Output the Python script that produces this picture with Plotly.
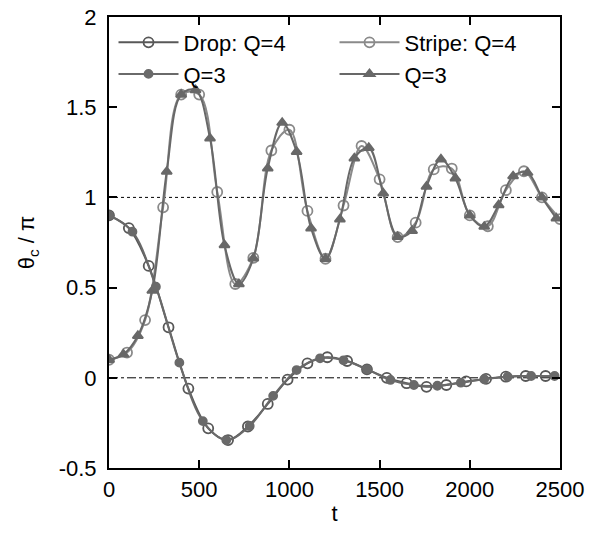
import plotly.graph_objects as go

# ---- data ----
drop4_t = [0, 110, 220, 330, 440, 550, 660, 770, 880, 990, 1100, 1210, 1320, 1430,
           1540, 1650, 1760, 1870, 1980, 2090, 2200, 2310, 2420]
drop4_y = [0.90, 0.83, 0.62, 0.28, -0.06, -0.28, -0.345, -0.27, -0.145, -0.01, 0.08, 0.114,
           0.093, 0.047, 0.0, -0.03, -0.05, -0.04, -0.02, -0.006, 0.006, 0.01, 0.01]

drop3_t = [0, 130, 260, 390, 520, 650, 780, 910, 1040, 1170, 1300, 1430, 1560, 1690,
           1820, 1950, 2080, 2210, 2340, 2470]
drop3_y = [0.90, 0.81, 0.505, 0.084, -0.24, -0.345, -0.267, -0.10, 0.043, 0.108, 0.097,
           0.047, -0.012, -0.04, -0.044, -0.027, -0.008, 0.006, 0.01, 0.01]

stripe4_t = [0, 100, 200, 300, 400, 500, 600, 700, 800, 900, 1000, 1100, 1200, 1300,
             1400, 1500, 1600, 1700, 1800, 1900, 2000, 2100, 2200, 2300, 2400, 2500]
stripe4_y = [0.10, 0.14, 0.32, 0.945, 1.57, 1.57, 1.03, 0.52, 0.665, 1.26, 1.375, 0.925,
             0.66, 0.955, 1.285, 1.10, 0.78, 0.86, 1.155, 1.16, 0.90, 0.84, 1.04, 1.145,
             1.00, 0.88]

stripe3_t = [0, 80, 160, 240, 320, 400, 480, 560, 640, 720, 800, 880, 960, 1040, 1120,
             1200, 1280, 1360, 1440, 1520, 1600, 1680, 1760, 1840, 1920, 2000, 2080,
             2160, 2240, 2320, 2400, 2480]
stripe3_y = [0.10, 0.13, 0.233, 0.483, 1.143, 1.57, 1.595, 1.327, 0.736, 0.52, 0.662,
             1.161, 1.414, 1.253, 0.829, 0.66, 0.879, 1.217, 1.275, 1.023, 0.782, 0.815,
             1.06, 1.211, 1.106, 0.90, 0.838, 0.958, 1.118, 1.137, 1.00, 0.884]

ref_dotted = 1.0
ref_dashdot = 0.0

x_ticks = [0, 500, 1000, 1500, 2000, 2500]
y_ticks = [-0.5, 0, 0.5, 1, 1.5, 2]
y_ticktext = ["-0.5", "0", "0.5", "1", "1.5", "2"]

FONT = "Liberation Sans, Arial, sans-serif"
FS = 22

fig = go.Figure()

def add(t, y, name, color, symbol, size, legend):
    fig.add_trace(go.Scatter(
        x=t, y=y, name=name, mode="lines+markers",
        line=dict(color=color, width=2, shape="spline", smoothing=1.0),
        marker=dict(symbol=symbol, size=size, color=color,
                    line=dict(color=color, width=1.8)),
        legend=legend,
    ))

add(stripe4_t, stripe4_y, "Stripe: Q=4", "#8a8a8a", "circle-open", 10, "legend2")
add(stripe3_t, stripe3_y, "Q=3", "#686868", "triangle-up", 9, "legend2")
add(drop4_t, drop4_y, "Drop: Q=4", "#585858", "circle-open", 10, "legend")
add(drop3_t, drop3_y, "Q=3", "#6a6a6a", "circle", 8, "legend")

fig.add_hline(y=ref_dotted, line=dict(color="black", width=1, dash="dot"), layer="below")
fig.add_hline(y=ref_dashdot, line=dict(color="black", width=1, dash="dashdot"), layer="below")

axis_common = dict(
    showline=True, linecolor="black", linewidth=2, mirror="ticks",
    ticks="inside", ticklen=8, tickwidth=1.5, tickcolor="black",
    showgrid=False, zeroline=False, automargin=False,
    tickfont=dict(family=FONT, size=FS, color="black"),
)

fig.update_xaxes(range=[0, 2500], tickvals=x_ticks,
                 ticktext=[str(v) for v in x_ticks],
                 ticklabelstandoff=1,
                 title=dict(text="t", font=dict(family=FONT, size=FS, color="black"),
                            standoff=4),
                 **axis_common)
fig.update_yaxes(range=[-0.5, 2], tickvals=y_ticks, ticktext=y_ticktext,
                 ticklabelstandoff=6,
                 title=dict(text="θ<sub>c</sub> / π",
                            font=dict(family=FONT, size=FS, color="black"), standoff=18),
                 **axis_common)

legend_style = dict(
    bgcolor="rgba(0,0,0,0)", borderwidth=0,
    font=dict(family=FONT, size=FS, color="black"),
    itemwidth=60, tracegroupgap=0, yanchor="top", xanchor="left",
)

fig.update_layout(
    width=592, height=534,
    margin=dict(l=109, r=32, t=17, b=66, autoexpand=False),
    paper_bgcolor="white", plot_bgcolor="white",
    showlegend=True,
    legend=dict(x=0.01, y=0.99, traceorder="normal", **legend_style),
    legend2=dict(x=0.5, y=0.99, traceorder="normal", **legend_style),
)

fig.write_html("out.html")
